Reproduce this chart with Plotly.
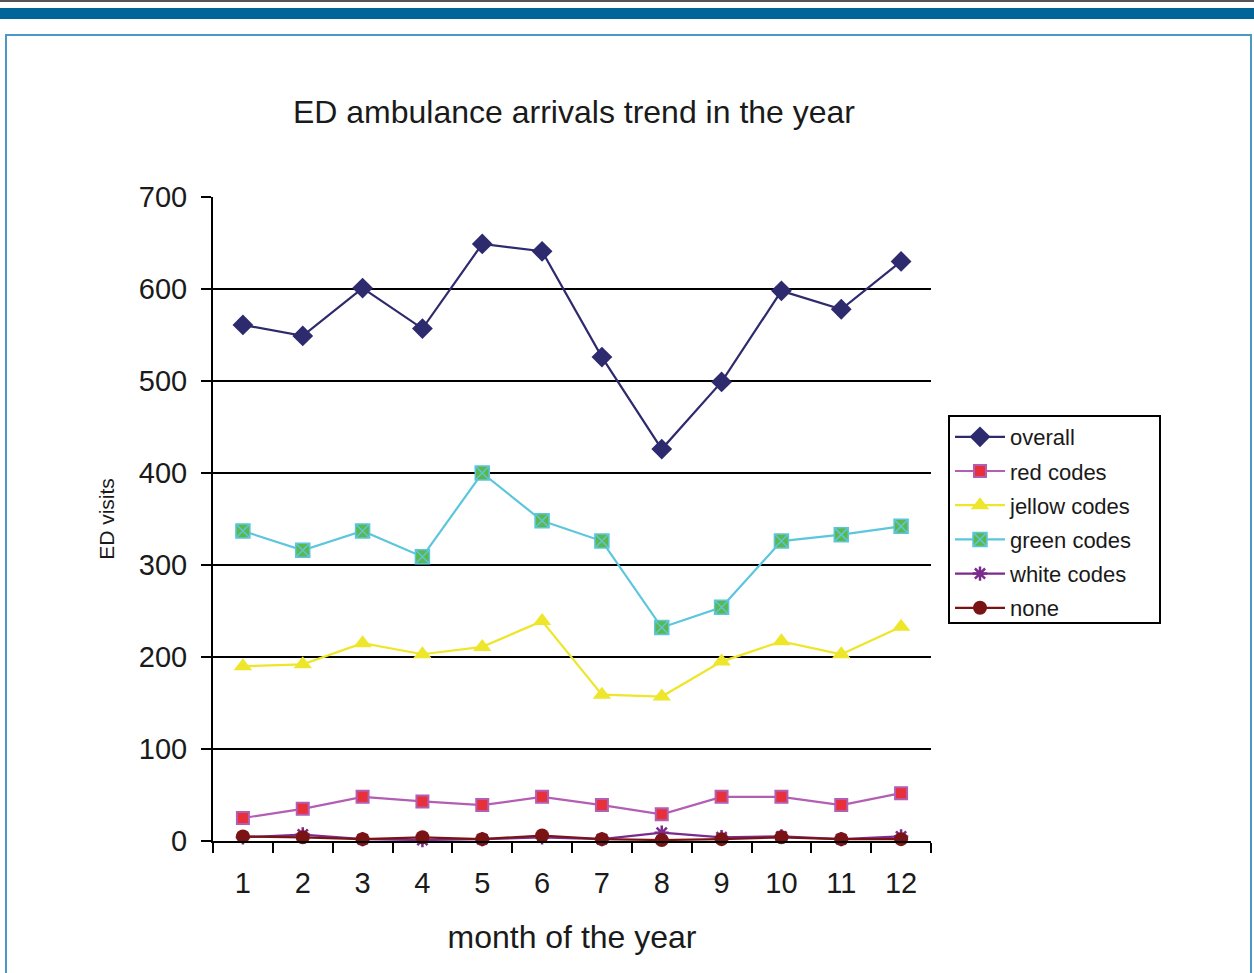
import plotly.graph_objects as go

months = ["1", "2", "3", "4", "5", "6", "7", "8", "9", "10", "11", "12"]
overall = [561, 549, 601, 557, 649, 641, 526, 426, 499, 598, 578, 630]
red_codes = [25, 35, 48, 43, 39, 48, 39, 29, 48, 48, 39, 52]
jellow_codes = [190, 192, 215, 203, 211, 239, 159, 157, 195, 217, 203, 233]
green_codes = [337, 316, 337, 309, 400, 348, 326, 232, 254, 326, 333, 342]
white_codes = [4, 7, 2, 1, 2, 4, 2, 9, 4, 5, 2, 5]
none_codes = [5, 4, 2, 4, 2, 6, 2, 1, 2, 4, 2, 2]

W, H = 1254, 973
L, R, T, B = 213, 931, 197, 841


def px_x(px):
    return (px - L) / (R - L)


def px_y(py):
    return (B - py) / (B - T)


fig = go.Figure()

series = [
    ("overall", overall, dict(color="#2e2a6e", width=2.2),
     dict(symbol="diamond", size=16, color="#2e2a6e")),
    ("red codes", red_codes, dict(color="#b35db3", width=2.2),
     dict(symbol="square", size=12, color="#e8303a", line=dict(color="#b35db3", width=2))),
    ("jellow codes", jellow_codes, dict(color="#ede62a", width=2.2),
     dict(symbol="triangle-up", size=16, color="#ede62a")),
    ("green codes", green_codes, dict(color="#5cc6dc", width=2.2),
     dict(symbol="square-x", size=14, color="#5cb84a", line=dict(color="#5cc6dc", width=1.5))),
    ("white codes", white_codes, dict(color="#7b2b8e", width=2.2),
     dict(symbol="asterisk-open", size=12, color="#7b2b8e", line=dict(color="#7b2b8e", width=2.5))),
    ("none", none_codes, dict(color="#7a1414", width=2.2),
     dict(symbol="circle", size=14, color="#7a1414")),
]

for i, (name, vals, line, marker) in enumerate(series):
    fig.add_trace(go.Scatter(
        x=months, y=vals, name=name, mode="lines+markers",
        line=line, marker=marker, cliponaxis=False, legendgroup=f"g{i}",
    ))

shapes = [
    dict(type="line", xref="paper", yref="paper", x0=px_x(0), x1=px_x(W), y0=px_y(1), y1=px_y(1),
         line=dict(color="#555555", width=2)),
    dict(type="rect", xref="paper", yref="paper", x0=px_x(0), x1=px_x(W), y0=px_y(8), y1=px_y(19),
         fillcolor="#00669a", line=dict(width=0)),
    dict(type="rect", xref="paper", yref="paper", x0=px_x(6), x1=px_x(1251), y0=px_y(35), y1=px_y(990),
         line=dict(color="#4a98c6", width=2), fillcolor="rgba(0,0,0,0)"),
    # legend frame
    dict(type="rect", xref="paper", yref="paper", x0=px_x(949), x1=px_x(1160), y0=px_y(416), y1=px_y(623),
         line=dict(color="black", width=2), fillcolor="rgba(0,0,0,0)", layer="above"),
]

fig.update_layout(
    width=W, height=H,
    margin=dict(l=L, r=W - R, t=T, b=H - B, autoexpand=False),
    paper_bgcolor="white", plot_bgcolor="white",
    font=dict(family="Liberation Sans, Arial, sans-serif", color="#1a1a1a"),
    title=dict(text="ED ambulance arrivals trend in the year", x=574 / W, xanchor="center",
               y=1 - 112 / H, yanchor="middle", font=dict(size=32, color="#1a1a1a")),
    shapes=shapes,
    showlegend=True,
    legend=dict(x=px_x(950), y=px_y(416), xanchor="left", yanchor="top",
                borderwidth=0, bgcolor="rgba(0,0,0,0)",
                font=dict(size=22, color="#1a1a1a"), tracegroupgap=2.6,
                itemwidth=50),
    xaxis=dict(
        type="category", range=[-0.5, 11.5], showgrid=False,
        showline=True, linecolor="black", linewidth=2,
        ticks="outside", tickson="boundaries", ticklen=10, tickwidth=2, tickcolor="black",
        tickfont=dict(size=29), ticklabelstandoff=15,
        title=dict(text="month of the year", font=dict(size=32), standoff=28),
    ),
    yaxis=dict(
        range=[0, 700], tickvals=[0, 100, 200, 300, 400, 500, 600, 700],
        showgrid=True, gridcolor="black", gridwidth=2, zeroline=False,
        showline=True, linecolor="black", linewidth=2,
        ticks="outside", ticklen=10, tickwidth=2, tickcolor="black",
        tickfont=dict(size=29), ticklabelstandoff=8,
        title=dict(text="ED visits", font=dict(size=21), standoff=18),
    ),
)

fig.write_html("out.html")
